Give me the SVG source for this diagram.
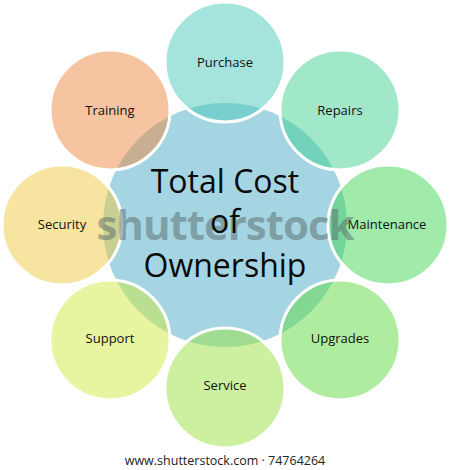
<svg xmlns="http://www.w3.org/2000/svg" width="450" height="470" viewBox="0 0 450 470">
<style>
.c{stroke:#ffffff;stroke-width:3;fill-opacity:0.5}
.l{font-family:"Open Sans","Noto Sans",sans-serif;font-size:13px;fill:#111111;text-anchor:middle}
.t{font-family:"Open Sans","Noto Sans",sans-serif;font-size:32px;fill:#0a0a0a;text-anchor:middle}
</style>
<rect width="450" height="470" fill="#ffffff"/>
<g id="center"><circle cx="225" cy="225" r="122" fill="#a5d5e3"/></g>
<g id="purchase"><circle class="c" cx="225" cy="62" r="60" fill="#4bc9b9"/><text class="l" x="225" y="67">Purchase</text></g>
<g id="repairs"><circle class="c" cx="340" cy="110" r="60" fill="#41d191"/><text class="l" x="340" y="115">Repairs</text></g>
<g id="maintenance"><circle class="c" cx="388" cy="225" r="60" fill="#41d555"/><text class="l" x="387" y="229">Maintenance</text></g>
<g id="upgrades"><circle class="c" cx="340" cy="340" r="60" fill="#5fd941"/><text class="l" x="340" y="343">Upgrades</text></g>
<g id="service"><circle class="c" cx="225" cy="388" r="60" fill="#9be141"/><text class="l" x="225" y="390">Service</text></g>
<g id="support"><circle class="c" cx="110" cy="340" r="60" fill="#d1e941"/><text class="l" x="110" y="343">Support</text></g>
<g id="security"><circle class="c" cx="62" cy="225" r="60" fill="#edc941"/><text class="l" x="62" y="229">Security</text></g>
<g id="training"><circle class="c" cx="110" cy="110" r="60" fill="#ed8941"/><text class="l" x="110" y="115">Training</text></g>
<g id="connectors"></g>
<text x="225" y="240" font-family="Open Sans, Noto Sans, sans-serif" font-size="42" font-weight="bold" fill="#5a6a6a" fill-opacity="0.5" text-anchor="middle" letter-spacing="-1">shutterstock</text>
<g id="title">
<text class="t" x="225" y="193">Total Cost</text>
<text class="t" x="225" y="233">of</text>
<text class="t" x="225" y="277">Ownership</text>
</g>
<text x="225" y="465" font-family="Open Sans, Noto Sans, sans-serif" font-size="12.5" fill="#222222" text-anchor="middle">www.shutterstock.com · 74764264</text>
</svg>
